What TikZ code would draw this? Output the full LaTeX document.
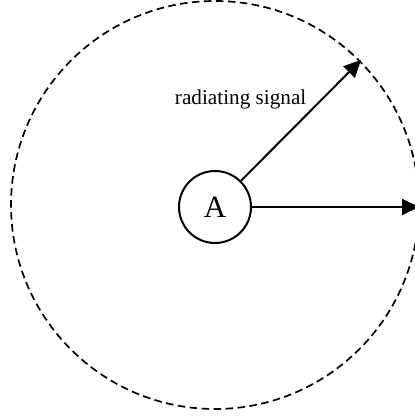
\documentclass[tikz,border=0pt]{standalone}
\usepackage{fontspec}
\setmainfont{Liberation Serif}
\usetikzlibrary{arrows.meta}

\begin{document}
\begin{tikzpicture}[x=0.5pt, y=0.5pt, line width=1pt,
    every node/.style={inner sep=0pt},
    station/.style={circle, draw, minimum size=36pt, font=\fontsize{15.5}{18}\selectfont},
    signal/.style={-{Triangle[length=8.5pt, width=8pt]}},
    reachring/.style={line width=0.85pt, dash pattern=on 3.8pt off 2.2pt}]
        \useasboundingbox (-215,-211) rectangle (199,207);
        % Transmission range
        \coordinate (ctr) at (0,2);
        \draw[reachring] (ctr) circle (204);
        % Station
        \node[station] (A) at (0,0) {A};
        % Signals out to the range
        \coordinate (edgeNE) at (146,147);
        \coordinate (edgeE) at (204,0);
        \draw[signal] (A) -- (edgeNE);
        \draw[signal] (A) -- (edgeE);
        \node[anchor=base west, font=\fontsize{10.6}{12}\selectfont] (lbl) at (-41,102.7) {radiating signal};
      \end{tikzpicture}
\end{document}
